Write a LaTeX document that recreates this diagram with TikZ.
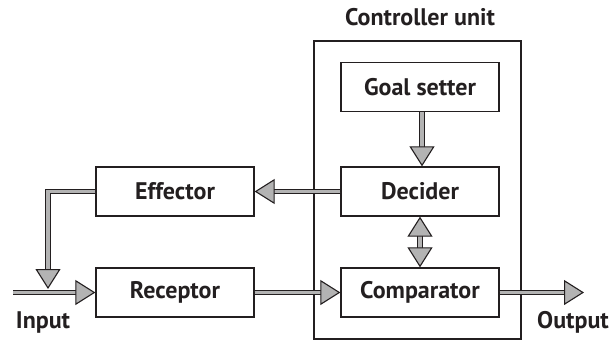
\documentclass[tikz,border=0pt]{standalone}
\usepackage{fontspec}
\setmainfont{PT Sans}
\usetikzlibrary{arrows.meta}
\definecolor{ink}{HTML}{231F20}
\definecolor{agray}{HTML}{B3B3B3}
\tikzset{
  box/.style={draw=ink, line width=1.3pt, minimum width=158pt, minimum height=49pt, inner sep=0pt, font=\bfseries\fontsize{24}{28}\selectfont, text=ink},
  lbl/.style={font=\bfseries\fontsize{24}{28}\selectfont, text=ink, inner sep=0pt},
  tipa/.tip={Triangle[width=25pt, length=20pt, line width=1.1pt, fill=agray, color=ink, fill=agray]},
  dbl/.style={draw=ink, line width=1.2pt, double=agray, double distance=3.2pt}
}
\begin{document}
\begin{tikzpicture}[x=1pt, y=-1pt]
\useasboundingbox (0,0) rectangle (611,341);
\node[draw=ink, line width=1.3pt, minimum width=207pt, minimum height=298pt, inner sep=0pt] (cu) at (417.5,190) {};
\node[lbl] (cut) at (420,17) {Controller unit};
\node[box] (goal) at (420,87) {Goal setter};
\node[box] (dec) at (420,191.5) {Decider};
\node[box] (comp) at (420,292.5) {Comparator};
\node[box] (eff) at (175,191.5) {Effector};
\node[box] (rec) at (175,292.5) {Receptor};
\node[lbl] (inl) at (43,322) {Input};
\node[lbl] (outl) at (573,322) {Output};
\coordinate (in) at (13,292.5);
\coordinate (out) at (584,292.5);
\coordinate (fb) at (48,289);
\draw[dbl, -{tipa}] ([xshift=2pt]goal.south) -- ([xshift=2pt]dec.north);
\draw[dbl, {tipa}-{tipa}] (dec.south) -- (comp.north);
\draw[dbl, -{tipa}] (dec.west) -- (eff.east);
\draw[dbl, -{tipa}] (eff.west) -| (fb);
\draw[dbl, -{tipa}] (in) -- (rec.west);
\draw[dbl, -{tipa}] (rec.east) -- (comp.west);
\draw[dbl, -{tipa}] (comp.east) -- (out);
\end{tikzpicture}
\end{document}
